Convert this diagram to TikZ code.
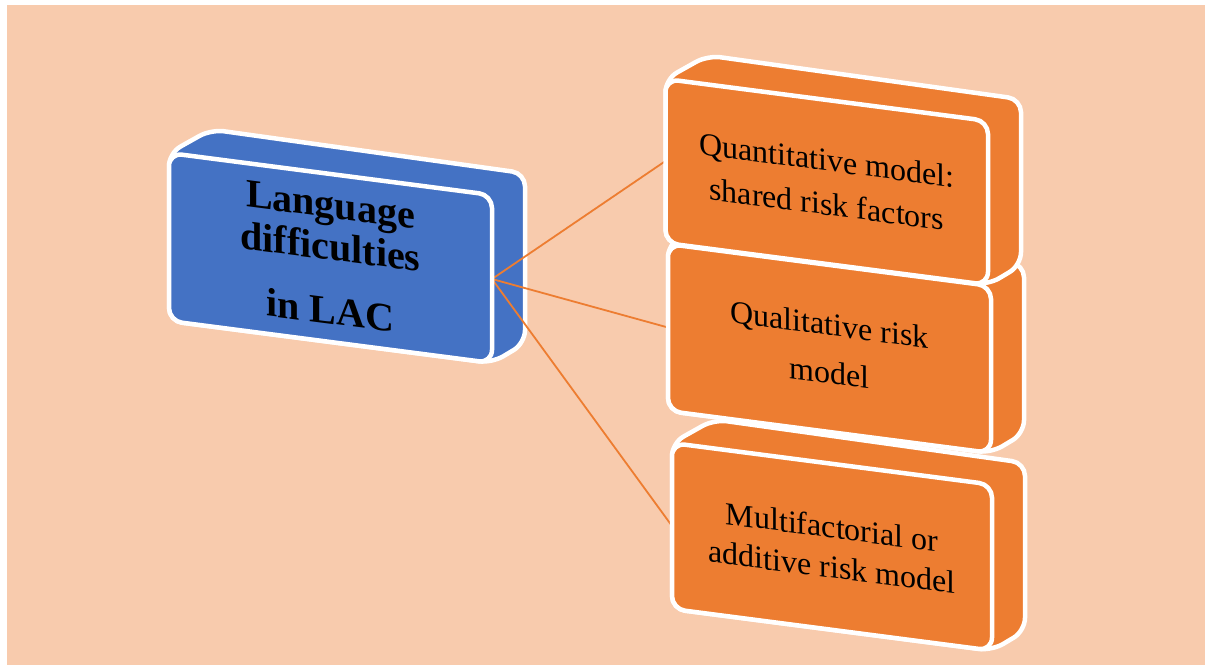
\documentclass[tikz,border=0pt]{standalone}
\usepackage{fontspec}
\setmainfont{Liberation Serif}
\pgfdeclarelayer{bg}
\pgfdeclarelayer{depth}
\pgfdeclarelayer{links}
\pgfsetlayers{bg,depth,links,main}
\definecolor{peach}{HTML}{F8CBAD}
\definecolor{boxblue}{HTML}{4472C4}
\definecolor{boxorange}{HTML}{ED7D31}
\tikzset{
  face/.style={draw=white, line width=4.5pt, rounded corners=13pt},
  link/.style={draw=boxorange, line width=1.8pt},
}
% \drawblock{name}{x}{y}{width}{height}{fill}{font}{text}
% a slanted 3-D block: depth hull on its own layer, front face node on top
\newcommand\drawblock[8]{%
  \begin{scope}[shift={(#2,#3)}, yslant=-0.13]
    \begin{pgfonlayer}{depth}
      \path[face, fill=#6] (0,0) -- (42,-29) -- (#4+33,-26) -- (#4+33,#5-24)
        -- (#4,#5) -- (0,#5) -- cycle;
    \end{pgfonlayer}
    \node[face, fill=#6, transform shape, minimum width=#4pt,
      minimum height=#5pt, inner sep=0pt, outer sep=0pt] (#1) at (#4/2,#5/2) {};
    \node[transform shape, align=center, font={#7}] (#1-text) at (#4/2,#5/2) {#8};
  \end{scope}}
\begin{document}
\begin{tikzpicture}[x=1pt, y=-1pt]
  \useasboundingbox (0,0) rectangle (1205,665);
  \drawblock{multi}{672}{443}{320}{166}{boxorange}{\fontsize{32}{40}\selectfont}
    {Multifactorial or\\additive risk model}
  \drawblock{quali}{668}{244}{323}{167}{boxorange}{\fontsize{32}{48}\selectfont}
    {Qualitative risk\\model}
  \drawblock{quanti}{665.5}{79}{322.5}{164}{boxorange}{\fontsize{32}{44}\selectfont}
    {Quantitative model:\\shared risk factors}
  \drawblock{lac}{169}{153}{323}{168}{boxblue}{\bfseries\fontsize{40}{42}\selectfont}
    {Language\\difficulties\\[22pt]in LAC}
  \begin{pgfonlayer}{bg}
    \fill[white] (0,0) rectangle (1205,665);
    \fill[peach] (7,5) rectangle (1205,665);
  \end{pgfonlayer}
  \begin{pgfonlayer}{links}
    \draw[link] (lac.east) -- (quanti.west);
    \draw[link] (lac.east) -- (quali.west);
    \draw[link] (lac.east) -- (multi.west);
  \end{pgfonlayer}
\end{tikzpicture}
\end{document}
